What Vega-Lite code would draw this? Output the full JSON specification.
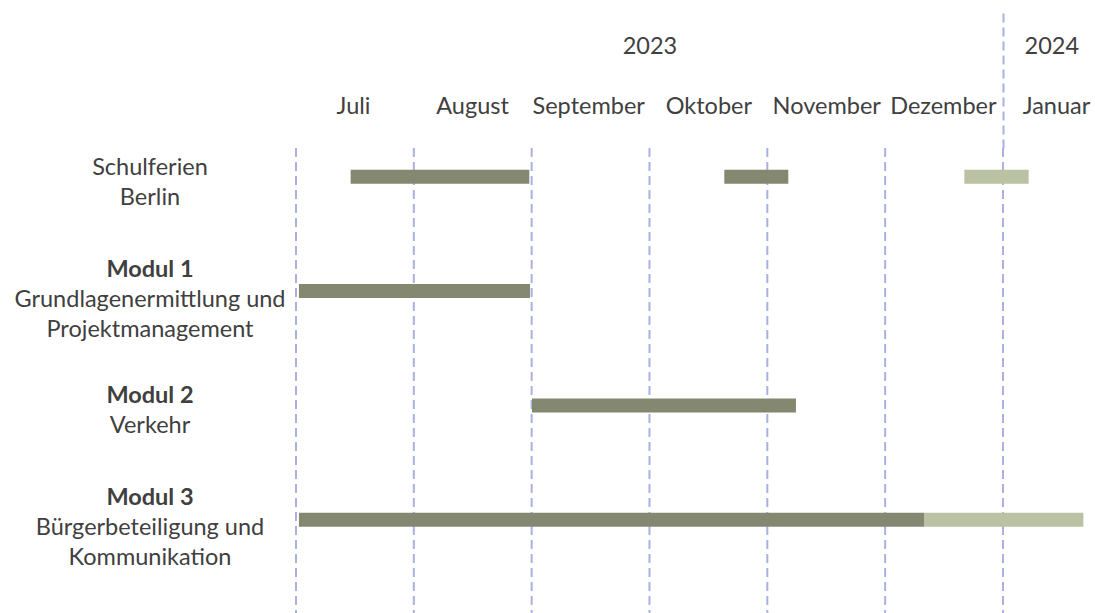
{
  "$schema": "https://vega.github.io/schema/vega-lite/v6.json",
  "width": 1095,
  "height": 465,
  "autosize": {"type": "none"},
  "padding": {"top": 148, "left": 0, "right": 0, "bottom": 0},
  "background": "white",
  "config": {"view": {"stroke": null}, "font": "Lato"},
  "datasets": {
    "monthLines": [{"m": 0}, {"m": 1}, {"m": 2}, {"m": 3}, {"m": 4}, {"m": 5}],
    "yearLines": [{"m": 6}],
    "tasks": [
      {"row": "Schulferien", "start": 0.464, "end": 1.98, "status": "2023"},
      {"row": "Schulferien", "start": 3.635, "end": 4.178, "status": "2023"},
      {"row": "Schulferien", "start": 5.672, "end": 6.218, "status": "2024"},
      {"row": "Modul 1", "start": 0.025, "end": 1.986, "status": "2023"},
      {"row": "Modul 2", "start": 2.003, "end": 4.243, "status": "2023"},
      {"row": "Modul 3", "start": 0.025, "end": 5.33, "status": "2023"},
      {"row": "Modul 3", "start": 5.33, "end": 6.682, "status": "2024"}
    ],
    "labels": [
      {"row": "Schulferien", "head": ["", ""], "text": ["Schulferien", "Berlin"]},
      {"row": "Modul 1", "head": ["Modul 1", "", ""], "text": ["", "Grundlagenermittlung und", "Projektmanagement"]},
      {"row": "Modul 2", "head": ["Modul 2", ""], "text": ["", "Verkehr"]},
      {"row": "Modul 3", "head": ["Modul 3", "", ""], "text": ["", "Bürgerbeteiligung und", "Kommunikation"]}
    ]
  },
  "resolve": {"axis": {"x": "independent"}},
  "layer": [
    {
      "data": {"name": "monthLines"},
      "mark": {"type": "rule", "strokeDash": [9, 5], "strokeWidth": 2, "color": "#aab0e2"},
      "encoding": {
        "x": {
          "field": "m", "type": "quantitative",
          "scale": {"domain": [-2.512, 6.781], "nice": false, "zero": false},
          "axis": {
            "orient": "top", "title": null,
            "values": [0.484, 1.494, 2.48, 3.5, 4.5, 5.49, 6.45],
            "labelExpr": "['Juli','August','September','Oktober','November','Dezember','Januar'][floor(datum.value)]",
            "ticks": false, "tickSize": 0, "domain": false, "grid": false,
            "labelPadding": 42, "labelBaseline": "middle", "labelAlign": "center",
            "labelFont": "Lato", "labelFontSize": 23.5, "labelColor": "#404040",
            "labelOverlap": false, "labelFlush": false, "labelBound": false
          }
        }
      }
    },
    {
      "data": {"name": "yearLines"},
      "mark": {"type": "rule", "strokeDash": [9, 5], "strokeWidth": 2, "color": "#aab0e2"},
      "encoding": {
        "x": {
          "field": "m", "type": "quantitative",
          "scale": {"domain": [-2.512, 6.781], "nice": false, "zero": false},
          "axis": {
            "orient": "top", "title": null,
            "values": [3, 6, 6.41],
            "labelExpr": "datum.value == 6 ? '' : (datum.value < 6 ? '2023' : '2024')",
            "ticks": true, "tickSize": 138, "tickWidth": 2, "tickColor": "#aab0e2", "tickDash": [9, 5],
            "tickOpacity": {"condition": {"test": "datum.value == 6", "value": 1}, "value": 0},
            "domain": false, "grid": false,
            "labelPadding": -36, "labelBaseline": "middle", "labelAlign": "center",
            "labelFont": "Lato", "labelFontSize": 23.5, "labelColor": "#404040",
            "labelOverlap": false, "labelFlush": false, "labelBound": false
          }
        }
      }
    },
    {
      "data": {"name": "tasks"},
      "mark": {"type": "bar", "height": 14},
      "encoding": {
        "x": {"field": "start", "type": "quantitative", "scale": {"domain": [-2.512, 6.781], "nice": false, "zero": false}, "axis": null},
        "x2": {"field": "end"},
        "y": {"field": "row", "type": "nominal", "axis": null,
              "scale": {"type": "point", "domain": ["Schulferien", "Modul 1", "Modul 2", "Modul 3"], "padding": 0.534, "align": 0.236}},
        "color": {"field": "status", "type": "nominal", "legend": null,
                  "scale": {"domain": ["2023", "2024"], "range": ["#848870", "#bbc1a3"]}}
      }
    },
    {
      "data": {"name": "labels"},
      "transform": [{"filter": "length(datum.text) == 2"}],
      "mark": {"type": "text", "align": "center", "baseline": "middle", "lineHeight": 30, "fontSize": 23.5, "font": "Lato", "color": "#404040", "dy": -9.25},
      "encoding": {
        "x": {"datum": -1.239, "type": "quantitative", "scale": {"domain": [-2.512, 6.781], "nice": false, "zero": false}, "axis": null},
        "y": {"field": "row", "type": "nominal", "axis": null},
        "text": {"field": "text"}
      }
    },
    {
      "data": {"name": "labels"},
      "transform": [{"filter": "length(datum.text) == 2"}],
      "mark": {"type": "text", "align": "center", "baseline": "middle", "lineHeight": 30, "fontSize": 23.5, "font": "Lato", "fontWeight": "bold", "color": "#404040", "dy": -9.25},
      "encoding": {
        "x": {"datum": -1.239, "type": "quantitative", "scale": {"domain": [-2.512, 6.781], "nice": false, "zero": false}, "axis": null},
        "y": {"field": "row", "type": "nominal", "axis": null},
        "text": {"field": "head"}
      }
    },
    {
      "data": {"name": "labels"},
      "transform": [{"filter": "length(datum.text) == 3"}],
      "mark": {"type": "text", "align": "center", "baseline": "middle", "lineHeight": 30, "fontSize": 23.5, "font": "Lato", "color": "#404040", "dy": -21.5},
      "encoding": {
        "x": {"datum": -1.239, "type": "quantitative", "scale": {"domain": [-2.512, 6.781], "nice": false, "zero": false}, "axis": null},
        "y": {"field": "row", "type": "nominal", "axis": null},
        "text": {"field": "text"}
      }
    },
    {
      "data": {"name": "labels"},
      "transform": [{"filter": "length(datum.text) == 3"}],
      "mark": {"type": "text", "align": "center", "baseline": "middle", "lineHeight": 30, "fontSize": 23.5, "font": "Lato", "fontWeight": "bold", "color": "#404040", "dy": -21.5},
      "encoding": {
        "x": {"datum": -1.239, "type": "quantitative", "scale": {"domain": [-2.512, 6.781], "nice": false, "zero": false}, "axis": null},
        "y": {"field": "row", "type": "nominal", "axis": null},
        "text": {"field": "head"}
      }
    }
  ]
}
